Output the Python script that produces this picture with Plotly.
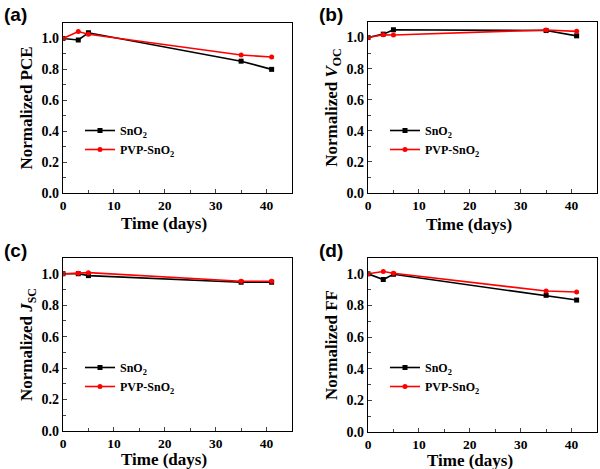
import plotly.graph_objects as go

days = [0, 3, 5, 35, 41]

pce_sno2 = [1.0, 0.99, 1.037, 0.853, 0.80]
pce_pvp = [1.0, 1.045, 1.027, 0.893, 0.880]

voc_sno2 = [1.0, 1.022, 1.050, 1.045, 1.011]
voc_pvp = [1.0, 1.018, 1.016, 1.049, 1.040]

jsc_sno2 = [1.0, 1.0, 0.988, 0.946, 0.946]
jsc_pvp = [1.0, 1.003, 1.007, 0.952, 0.952]

ff_sno2 = [1.0, 0.964, 0.997, 0.864, 0.834]
ff_pvp = [1.0, 1.015, 1.004, 0.891, 0.885]

series_names = ["SnO<sub>2</sub>", "PVP-SnO<sub>2</sub>"]
panel_labels = ["(a)", "(b)", "(c)", "(d)"]
y_titles = ["Normalized PCE", "Normalized <i>V</i><sub>OC</sub>",
            "Normalized <i>J</i><sub>SC</sub>", "Normalized FF"]
x_title = "Time (days)"

panels = [(pce_sno2, pce_pvp), (voc_sno2, voc_pvp), (jsc_sno2, jsc_pvp), (ff_sno2, ff_pvp)]

W, H = 600, 469
# pixel boxes: left, right, top, bottom
boxes = [(63, 292, 23, 193), (368, 597, 22, 193), (63, 292, 258, 431), (368, 597, 258, 432)]
label_pos = [(2, 2), (317, 2), (2, 238), (317, 238)]
legend_pos = [(80, 116), (385, 116), (80, 353), (385, 353)]
xtitle_pos = [(164, 223), (469, 224), (164, 459), (470, 460)]

fig = go.Figure()
font_serif = "Liberation Serif, Times New Roman, serif"

for i, (s1, s2) in enumerate(panels):
    k = "" if i == 0 else str(i + 1)
    leg = "legend" if i == 0 else f"legend{i+1}"
    fig.add_trace(go.Scatter(x=days, y=s1, mode="lines+markers", name=series_names[0],
                             line=dict(color="black", width=1.6),
                             marker=dict(symbol="square", size=5, color="black"),
                             xaxis="x" + k, yaxis="y" + k, legend=leg))
    fig.add_trace(go.Scatter(x=days, y=s2, mode="lines+markers", name=series_names[1],
                             line=dict(color="#ff0000", width=1.6),
                             marker=dict(symbol="circle", size=5, color="#ff0000"),
                             xaxis="x" + k, yaxis="y" + k, legend=leg))

layout = dict(width=W, height=H, margin=dict(l=0, r=0, t=0, b=0, autoexpand=False),
              paper_bgcolor="white", plot_bgcolor="white", showlegend=True,
              font=dict(family=font_serif, color="black"))
annotations = []
for i, (l, r, t, b) in enumerate(boxes):
    k = "" if i == 0 else str(i + 1)
    xa = dict(domain=[l / W, r / W], range=[0, 45], anchor="y" + k, automargin=False,
              tickvals=[0, 10, 20, 30, 40], ticks="inside", ticklen=4, tickwidth=1,
              minor=dict(tickvals=[5, 15, 25, 35], ticks="inside", ticklen=2.5, tickwidth=1),
              showline=True, linecolor="black", linewidth=1.2, mirror=True, showgrid=False,
              zeroline=False,
              tickfont=dict(family=font_serif, size=13.5, color="black", weight="bold"))
    ya = dict(domain=[1 - b / H, 1 - t / H], range=[0, 1.1], anchor="x" + k, automargin=False,
              tickvals=[0, 0.2, 0.4, 0.6, 0.8, 1.0], ticktext=["0.0", "0.2", "0.4", "0.6", "0.8", "1.0"],
              ticks="inside", ticklen=4, tickwidth=1,
              minor=dict(tickvals=[0.1, 0.3, 0.5, 0.7, 0.9], ticks="inside", ticklen=2.5, tickwidth=1),
              showline=True, linecolor="black", linewidth=1.2, mirror=True, showgrid=False,
              zeroline=False,
              tickfont=dict(family=font_serif, size=14, color="black", weight="bold"),
              title=dict(text=f"<b>{y_titles[i]}</b>", font=dict(family=font_serif, size=17), standoff=4))
    layout["xaxis" + k] = xa
    layout["yaxis" + k] = ya
    lx, ly = legend_pos[i]
    layout["legend" if i == 0 else f"legend{i+1}"] = dict(
        x=lx / W, y=1 - ly / H, xanchor="left", yanchor="top", bgcolor="rgba(0,0,0,0)",
        font=dict(family=font_serif, size=12, color="black", weight="bold"),
        tracegroupgap=0, itemwidth=30)
    px, py = label_pos[i]
    annotations.append(dict(text=f"<b>{panel_labels[i]}</b>", x=px / W, y=1 - py / H,
                            xref="paper", yref="paper", xanchor="left", yanchor="top",
                            showarrow=False,
                            font=dict(family="Liberation Sans, Arial, sans-serif", size=19, color="black")))
    tx, ty = xtitle_pos[i]
    annotations.append(dict(text=f"<b>{x_title}</b>", x=tx / W, y=1 - ty / H,
                            xref="paper", yref="paper", xanchor="center", yanchor="middle",
                            showarrow=False,
                            font=dict(family=font_serif, size=17, color="black")))
layout["annotations"] = annotations
fig.update_layout(**layout)
fig.write_html("out.html", config={"displayModeBar": False},
               post_script="document.body.style.margin='0px';document.body.style.overflow='hidden';")
